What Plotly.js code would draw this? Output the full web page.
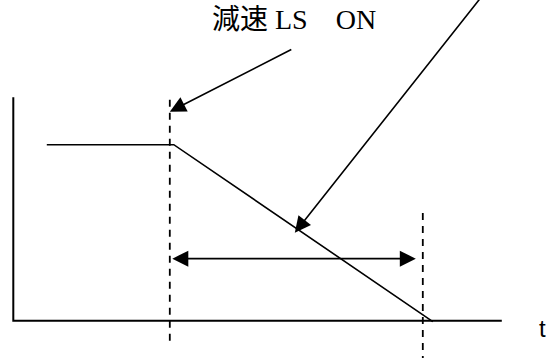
<!DOCTYPE html>
<html>
<head>
<meta charset="utf-8">
<script src="https://cdn.plot.ly/plotly-3.0.1.min.js"></script>
<style>html,body{margin:0;padding:0;background:#fff;}#chart{width:546px;height:358px;}</style>
</head>
<body>
<div id="chart"></div>
<script>
// Schematic speed-vs-time values (time units, speed units)
var axisT = [0, 0, 9.77];
var axisV = [5.08, 0, 0];
var speedT = [0.67, 3.21, 8.39];
var speedV = [4.0, 4.0, -0.02];
var lsOnT = [3.13, 3.13];
var lsOnV = [5.02, -0.48];
var stopT = [8.19, 8.19];
var stopV = [2.45, -0.9];
var spanT = [3.15, 8.05];
var spanV = 1.41;
var lsArrowTail = [5.59, 6.18];
var lsArrowTip = [3.13, 4.75];
var slopeArrowTail = [9.39, 7.40];
var slopeArrowTip = [5.63, 2.0];
var labelText = '減速 LS　ON';
var labelPos = [5.61, 6.84];
var tLabel = 't';
var tLabelPos = [10.48, -0.17];

var black = '#000000';
var traces = [
  {x: axisT, y: axisV, mode: 'lines', line: {color: black, width: 2}},
  {x: speedT, y: speedV, mode: 'lines', line: {color: black, width: 1.6}},
  {x: lsOnT, y: lsOnV, mode: 'lines', line: {color: black, width: 1.8, dash: '7px,6px'}},
  {x: stopT, y: stopV, mode: 'lines', line: {color: black, width: 1.8, dash: '7px,6px'}}
];

var annotations = [
  {x: lsArrowTip[0], y: lsArrowTip[1], ax: lsArrowTail[0], ay: lsArrowTail[1],
   xref: 'x', yref: 'y', axref: 'x', ayref: 'y', text: '', showarrow: true,
   arrowhead: 2, arrowsize: 2, arrowwidth: 1.6, arrowcolor: black, standoff: 0},
  {x: slopeArrowTip[0], y: slopeArrowTip[1], ax: slopeArrowTail[0], ay: slopeArrowTail[1],
   xref: 'x', yref: 'y', axref: 'x', ayref: 'y', text: '', showarrow: true,
   arrowhead: 2, arrowsize: 2, arrowwidth: 1.6, arrowcolor: black, standoff: 0},
  {x: spanT[1], y: spanV, ax: spanT[0], ay: spanV,
   xref: 'x', yref: 'y', axref: 'x', ayref: 'y', text: '', showarrow: true,
   arrowhead: 2, arrowsize: 2, startarrowhead: 2, startarrowsize: 2, arrowside: 'end+start',
   arrowwidth: 1.6, arrowcolor: black, standoff: 0, startstandoff: 0},
  {x: labelPos[0], y: labelPos[1], xref: 'x', yref: 'y', text: labelText, showarrow: false,
   xanchor: 'center', yanchor: 'middle',
   font: {family: 'Liberation Serif, Noto Sans CJK JP', size: 28, color: black}},
  {x: tLabelPos[0], y: tLabelPos[1], xref: 'x', yref: 'y', text: tLabel, showarrow: false,
   xanchor: 'left', yanchor: 'middle',
   font: {family: 'Liberation Sans, Arial', size: 24, color: black}}
];

var layout = {
  width: 546, height: 358,
  margin: {l: 0, r: 0, t: 0, b: 0, pad: 0},
  paper_bgcolor: '#ffffff', plot_bgcolor: '#ffffff',
  showlegend: false, hovermode: false,
  xaxis: {range: [-0.266, 10.654], visible: false, fixedrange: true},
  yaxis: {range: [-0.848, 7.289], visible: false, fixedrange: true},
  annotations: annotations
};

Plotly.newPlot('chart', traces, layout, {staticPlot: true, displayModeBar: false});
</script>
</body>
</html>
